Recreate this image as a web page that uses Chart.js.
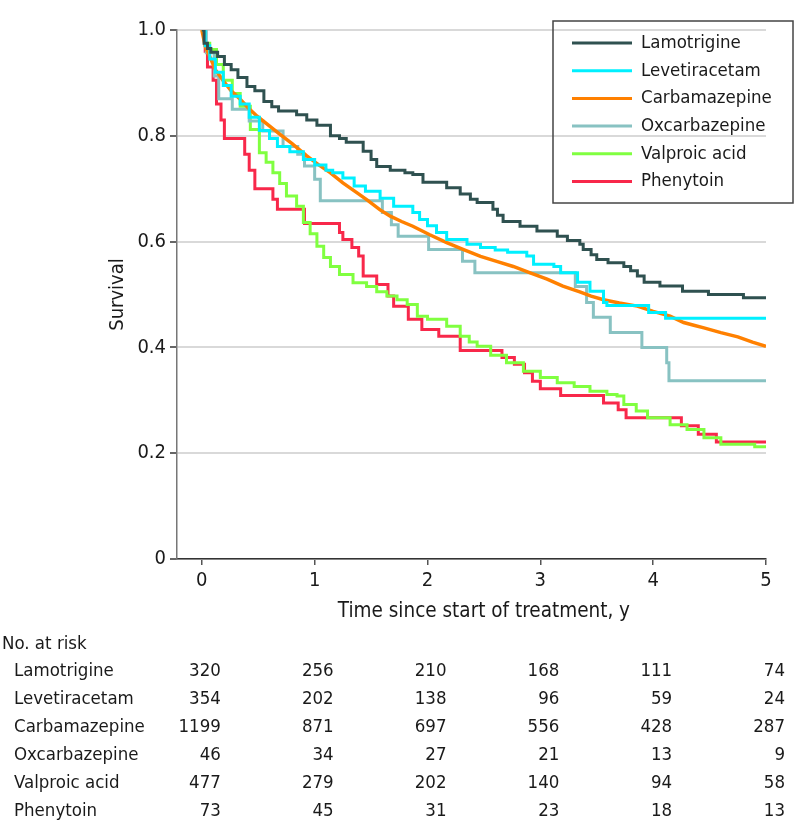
<!DOCTYPE html>
<html>
<head>
<meta charset="utf-8">
<script src="https://cdn.jsdelivr.net/npm/chart.js@4.4.1/dist/chart.umd.min.js"></script>
<style>
  html, body { margin: 0; padding: 0; background: #fff; }
  #wrap { width: 794px; height: 839px; }
</style>
</head>
<body>
<div id="wrap"><canvas id="kmChart" width="794" height="839"></canvas></div>
<script>
// survival curves, [time in years, survival]
var lamotrigine = [[0,1],[0.02,0.975],[0.05,0.965],[0.08,0.958],[0.14,0.95],[0.2,0.935],[0.26,0.925],[0.32,0.91],[0.4,0.893],[0.47,0.885],[0.55,0.865],[0.62,0.855],[0.68,0.847],[0.84,0.84],[0.93,0.83],[1.02,0.82],[1.14,0.8],[1.22,0.795],[1.28,0.788],[1.43,0.771],[1.5,0.755],[1.55,0.742],[1.67,0.735],[1.8,0.73],[1.87,0.727],[1.96,0.712],[2.17,0.702],[2.29,0.69],[2.38,0.68],[2.44,0.674],[2.58,0.661],[2.62,0.65],[2.67,0.638],[2.82,0.629],[2.97,0.62],[3.15,0.61],[3.24,0.602],[3.35,0.595],[3.38,0.585],[3.45,0.575],[3.5,0.566],[3.6,0.56],[3.74,0.553],[3.8,0.545],[3.86,0.535],[3.92,0.523],[4.06,0.516],[4.26,0.506],[4.49,0.5],[4.8,0.494],[5,0.494]];
var levetiracetam = [[0,1],[0.03,0.97],[0.07,0.945],[0.12,0.92],[0.19,0.895],[0.26,0.875],[0.34,0.86],[0.42,0.835],[0.51,0.81],[0.6,0.795],[0.67,0.78],[0.78,0.77],[0.9,0.755],[1.0,0.745],[1.1,0.735],[1.16,0.73],[1.25,0.72],[1.35,0.705],[1.45,0.695],[1.58,0.682],[1.7,0.667],[1.87,0.655],[1.93,0.642],[2.0,0.63],[2.08,0.617],[2.17,0.604],[2.35,0.595],[2.47,0.589],[2.6,0.584],[2.71,0.58],[2.88,0.573],[2.94,0.557],[3.12,0.553],[3.18,0.541],[3.33,0.523],[3.44,0.506],[3.56,0.485],[3.59,0.479],[3.96,0.466],[4.11,0.455],[5,0.455]];
var carbamazepine = [[0,1],[0.03,0.97],[0.07,0.95],[0.12,0.925],[0.19,0.904],[0.26,0.885],[0.34,0.869],[0.41,0.853],[0.49,0.837],[0.59,0.82],[0.69,0.803],[0.8,0.785],[0.93,0.762],[1.03,0.746],[1.14,0.73],[1.25,0.711],[1.37,0.693],[1.47,0.678],[1.58,0.66],[1.67,0.648],[1.77,0.638],[1.87,0.629],[2.02,0.613],[2.17,0.598],[2.32,0.585],[2.47,0.572],[2.62,0.562],[2.76,0.553],[2.91,0.541],[3.06,0.529],[3.2,0.516],[3.35,0.505],[3.45,0.497],[3.56,0.49],[3.7,0.484],[3.86,0.478],[4.0,0.468],[4.15,0.459],[4.27,0.447],[4.36,0.442],[4.45,0.437],[4.6,0.428],[4.75,0.42],[4.88,0.41],[5,0.402]];
var oxcarbazepine = [[0,1],[0.04,0.957],[0.11,0.913],[0.15,0.87],[0.27,0.85],[0.42,0.828],[0.54,0.809],[0.72,0.78],[0.85,0.765],[0.91,0.743],[1.0,0.718],[1.05,0.677],[1.6,0.655],[1.68,0.632],[1.74,0.61],[2.01,0.585],[2.31,0.563],[2.42,0.541],[3.31,0.515],[3.41,0.485],[3.47,0.457],[3.62,0.428],[3.9,0.4],[4.12,0.371],[4.14,0.337],[5,0.337]];
var valproicAcid = [[0,1],[0.03,0.975],[0.07,0.963],[0.13,0.935],[0.19,0.905],[0.27,0.88],[0.34,0.856],[0.43,0.812],[0.51,0.768],[0.57,0.75],[0.63,0.73],[0.69,0.71],[0.75,0.686],[0.84,0.667],[0.9,0.636],[0.96,0.615],[1.02,0.591],[1.08,0.57],[1.14,0.553],[1.22,0.538],[1.34,0.522],[1.46,0.515],[1.55,0.505],[1.64,0.497],[1.73,0.49],[1.82,0.481],[1.91,0.459],[2.0,0.453],[2.17,0.44],[2.29,0.421],[2.37,0.41],[2.44,0.402],[2.56,0.385],[2.7,0.371],[2.85,0.355],[3.0,0.343],[3.15,0.333],[3.3,0.326],[3.44,0.317],[3.59,0.311],[3.68,0.308],[3.74,0.292],[3.85,0.28],[3.95,0.267],[4.15,0.254],[4.3,0.245],[4.45,0.229],[4.6,0.217],[4.9,0.212],[5,0.21]];
var phenytoin = [[0,1],[0.03,0.96],[0.05,0.93],[0.1,0.905],[0.13,0.86],[0.17,0.83],[0.2,0.795],[0.38,0.765],[0.42,0.735],[0.47,0.7],[0.63,0.68],[0.67,0.661],[0.91,0.634],[1.22,0.617],[1.25,0.604],[1.33,0.589],[1.39,0.573],[1.43,0.535],[1.55,0.519],[1.65,0.497],[1.7,0.478],[1.83,0.453],[1.95,0.434],[2.1,0.421],[2.29,0.394],[2.66,0.381],[2.77,0.368],[2.86,0.352],[2.93,0.336],[3.0,0.322],[3.18,0.309],[3.56,0.295],[3.69,0.282],[3.76,0.267],[4.25,0.252],[4.4,0.236],[4.56,0.221],[5,0.221]];

var drugNames = ['Lamotrigine', 'Levetiracetam', 'Carbamazepine', 'Oxcarbazepine', 'Valproic acid', 'Phenytoin'];
var drugColors = ['#2f5150', '#00f0ff', '#ff8000', '#88c2c2', '#80ff40', '#f8284a'];
var xTicks = [0, 1, 2, 3, 4, 5];
var yTicks = [0, 0.2, 0.4, 0.6, 0.8, 1.0];

// number at risk at 0..5 y
var riskLamotrigine = [320, 256, 210, 168, 111, 74];
var riskLevetiracetam = [354, 202, 138, 96, 59, 24];
var riskCarbamazepine = [1199, 871, 697, 556, 428, 287];
var riskOxcarbazepine = [46, 34, 27, 21, 13, 9];
var riskValproic = [477, 279, 202, 140, 94, 58];
var riskPhenytoin = [73, 45, 31, 23, 18, 13];

var FONT = "'DejaVu Sans Condensed', 'Liberation Sans Narrow', 'DejaVu Sans', sans-serif";

var curves = [lamotrigine, levetiracetam, carbamazepine, oxcarbazepine, valproicAcid, phenytoin];
var riskRows = [riskLamotrigine, riskLevetiracetam, riskCarbamazepine, riskOxcarbazepine, riskValproic, riskPhenytoin];

function toPoints(arr) {
  return arr.map(function(p) { return { x: p[0], y: p[1] }; });
}

var datasets = curves.map(function(c, i) {
  return {
    label: drugNames[i],
    data: toPoints(c),
    borderColor: drugColors[i],
    backgroundColor: drugColors[i],
    borderWidth: i === 2 ? 3.5 : 3,
    pointRadius: 0,
    stepped: i === 2 ? false : true,
    fill: false
  };
});

// legend box + titles + risk table
var extrasPlugin = {
  id: 'extras',
  afterDraw: function(chart) {
    var ctx = chart.ctx;
    var xs = chart.scales.x;
    ctx.save();

    // legend
    ctx.strokeStyle = '#444';
    ctx.lineWidth = 1.5;
    ctx.strokeRect(553, 21, 240, 182);
    ctx.font = '18.5px ' + FONT;
    ctx.textBaseline = 'middle';
    ctx.textAlign = 'left';
    drugNames.forEach(function(name, i) {
      var y = 43 + i * 27.7;
      ctx.strokeStyle = drugColors[i];
      ctx.lineWidth = 3;
      ctx.beginPath();
      ctx.moveTo(572, y);
      ctx.lineTo(632, y);
      ctx.stroke();
      ctx.fillStyle = '#1a1a1a';
      ctx.fillText(name, 641, y);
    });

    // axis titles
    ctx.fillStyle = '#1a1a1a';
    ctx.font = '20.5px ' + FONT;
    ctx.textAlign = 'center';
    ctx.fillText('Time since start of treatment, y', xs.getPixelForValue(2.5), 612);
    ctx.save();
    ctx.translate(118, (chart.chartArea.top + chart.chartArea.bottom) / 2);
    ctx.rotate(-Math.PI / 2);
    ctx.font = '20px ' + FONT;
    ctx.fillText('Survival', 0, 0);
    ctx.restore();

    // number at risk table
    ctx.font = '18.5px ' + FONT;
    ctx.textAlign = 'left';
    ctx.fillText('No. at risk', 2, 644);
    riskRows.forEach(function(row, i) {
      var y = 671 + i * 28;
      ctx.textAlign = 'left';
      ctx.fillText(drugNames[i], 14, y);
      ctx.textAlign = 'right';
      row.forEach(function(n, j) {
        ctx.fillText(String(n), xs.getPixelForValue(xTicks[j]) + 19, y);
      });
    });
    ctx.restore();
  }
};

var ctx = document.getElementById('kmChart').getContext('2d');
var kmChart = new Chart(ctx, {
  type: 'line',
  data: { datasets: datasets },
  options: {
    responsive: false,
    animation: false,
    layout: { padding: { left: 103, top: 30, right: 28, bottom: 250 } },
    plugins: {
      legend: { display: false },
      tooltip: { enabled: false }
    },
    scales: {
      x: {
        type: 'linear',
        min: -0.22,
        max: 5,
        afterBuildTicks: function(scale) {
          scale.ticks = xTicks.map(function(v) { return { value: v }; });
        },
        afterFit: function(scale) { scale.height = 30; },
        grid: { drawOnChartArea: false, drawTicks: true, tickLength: 6, tickColor: '#555', lineWidth: 1.5 },
        border: { color: '#333', width: 1.5 },
        ticks: { color: '#1a1a1a', font: { family: FONT, size: 20 }, padding: 4, maxRotation: 0 }
      },
      y: {
        type: 'linear',
        min: 0,
        max: 1,
        afterBuildTicks: function(scale) {
          scale.ticks = yTicks.map(function(v) { return { value: v }; });
        },
        afterFit: function(scale) { scale.width = 74; },
        grid: { color: '#d9d9d9', lineWidth: 2, tickColor: '#666', tickLength: 7 },
        border: { color: '#777', width: 1.5 },
        ticks: {
          color: '#1a1a1a',
          font: { family: FONT, size: 20 },
          padding: 4,
          callback: function(v) { return v === 0 ? '0' : v.toFixed(1); }
        }
      }
    }
  },
  plugins: [extrasPlugin]
});
</script>
</body>
</html>
